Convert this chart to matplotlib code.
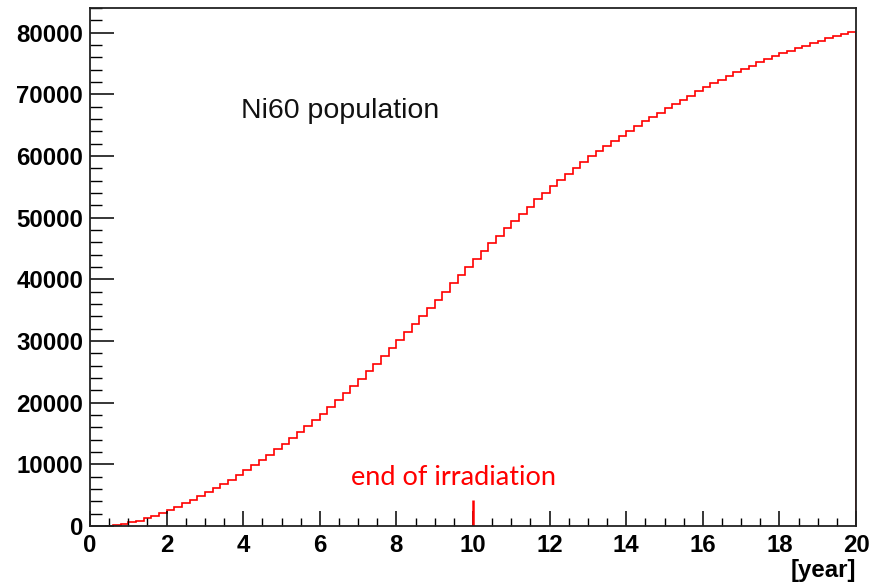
import numpy as np
import matplotlib
matplotlib.use('Agg')
import matplotlib.pyplot as plt
from matplotlib import font_manager
from matplotlib.ticker import MultipleLocator

# bin edges (0.2 year bins, first filled bin starts at 0.4)
edges = np.round(np.arange(0.4, 20.0001, 0.2), 1)

# Ni60 population per bin
population = [
    50, 150, 330, 580, 880, 1230, 1630, 2080,                      # 0.4 - 1.8
    2580, 3100, 3650, 4230, 4840, 5480, 6140, 6830, 7540, 8280,     # 2.0 - 3.8
    9050, 9840, 10670, 11530, 12420, 13330, 14260, 15210, 16180, 17170,  # 4.0 - 5.8
    18180, 19250, 20380, 21530, 22690,                              # 6.0 - 6.8
    23850, 25080, 26310, 27560, 28840, 30120, 31400, 32710, 34020, 35350,  # 7.0 - 8.8
    36690, 38020, 39350, 40680, 41990,                              # 9.0 - 9.8
    43290, 44570, 45830, 47060, 48260, 49430, 50570, 51810, 52950, 54030,  # 10.0 - 11.8
    55090, 56120, 57120, 58090, 59030, 59940, 60820, 61680, 62510, 63320,  # 12.0 - 13.8
    64110, 64880, 65630, 66350, 67050, 67730, 68390, 69100, 69790, 70470,  # 14.0 - 15.8
    71130, 71770, 72390, 72990, 73570, 74130, 74670, 75190, 75690, 76170,  # 16.0 - 17.8
    76630, 77070, 77490, 77900, 78300, 78690, 79070, 79440, 79800, 80100,  # 18.0 - 19.8
]

end_of_irradiation = 10.0
marker_height = 4200


def find_font(filename, fallback):
    for path in font_manager.findSystemFonts():
        if path.endswith(filename):
            return font_manager.FontProperties(fname=path)
    return font_manager.FontProperties(**fallback)


bold = find_font('LiberationSans-Bold.ttf', dict(family='Liberation Sans', weight='bold'))
regular = find_font('LiberationSans-Regular.ttf', dict(family='Liberation Sans'))

fig = plt.figure(figsize=(8.84, 5.83), dpi=100)
ax = fig.add_axes([90 / 884, 1 - 526 / 583, (856 - 90) / 884, (526 - 8) / 583])

ax.stairs(population, edges, color='#ff0000', linewidth=1.2)
ax.plot([end_of_irradiation, end_of_irradiation], [0, marker_height],
        color='#ff0000', linewidth=1.8, solid_capstyle='butt')

ax.set_xlim(0, 20)
ax.set_ylim(0, 84000)

ax.xaxis.set_major_locator(MultipleLocator(2))
ax.xaxis.set_minor_locator(MultipleLocator(0.5))
ax.yaxis.set_major_locator(MultipleLocator(10000))
ax.yaxis.set_minor_locator(MultipleLocator(2000))

ax.tick_params(axis='x', which='major', direction='in', length=11, width=1.1,
               pad=6, top=False)
ax.tick_params(axis='x', which='minor', direction='in', length=5.5, width=1.0, top=False)
ax.tick_params(axis='y', which='major', direction='in', length=17, width=1.1,
               pad=5, right=False)
ax.tick_params(axis='y', which='minor', direction='in', length=8.6, width=1.0, right=False)
for lab in ax.get_xticklabels() + ax.get_yticklabels():
    lab.set_fontproperties(bold)
    lab.set_fontsize(17.3)

for sp in ax.spines.values():
    sp.set_linewidth(1.3)
    sp.set_color('#222222')

ax.text(3.95, 67300, 'Ni60 population', fontproperties=regular, fontsize=20.5,
        va='center', ha='left', color='#111111')
ax.text(9.5, 7900, 'end of irradiation', family='Lato', fontsize=19.5,
        va='center', ha='center', color='#ff0000')

fig.text(856 / 884, 1 - 571 / 583, '[year]', fontproperties=bold,
         fontsize=17.3, ha='right', va='center')

fig.savefig('out.png', dpi=100)
